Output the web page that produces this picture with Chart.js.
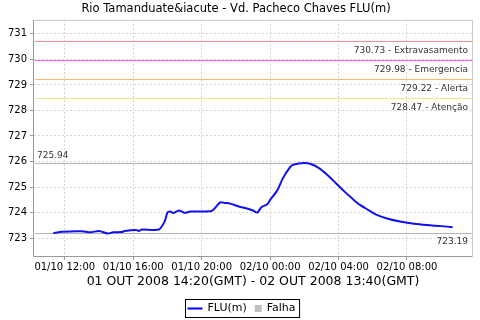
<!DOCTYPE html>
<html>
<head>
<meta charset="utf-8">
<script src="https://cdn.jsdelivr.net/npm/chart.js@4/dist/chart.umd.min.js"></script>
<style>
    html, body { margin: 0; padding: 0; background: #fff; }
    #wrap { width: 480px; height: 320px; }
</style>
</head>
<body>
<div id="wrap"><canvas id="chart"></canvas></div>
<script>
// time of reading (local), level in metres
const times = [
    '01/10 11:20', '01/10 11:50', '01/10 13:00', '01/10 13:30', '01/10 14:00',
    '01/10 14:30', '01/10 14:50', '01/10 15:20', '01/10 15:30', '01/10 16:10',
    '01/10 16:20', '01/10 16:30', '01/10 17:30', '01/10 17:50', '01/10 18:00',
    '01/10 18:10', '01/10 18:20', '01/10 18:40', '01/10 19:00', '01/10 19:20',
    '01/10 20:30', '01/10 20:40', '01/10 21:05', '01/10 21:20', '01/10 21:40',
    '01/10 22:10', '01/10 22:45', '01/10 23:00', '01/10 23:15', '01/10 23:30',
    '01/10 23:50', '02/10 00:00', '02/10 00:25', '02/10 00:45', '02/10 01:10',
    '02/10 01:20', '02/10 01:40', '02/10 02:00', '02/10 02:20', '02/10 02:50',
    '02/10 03:20', '02/10 03:50', '02/10 04:20', '02/10 04:50', '02/10 05:15',
    '02/10 05:45', '02/10 06:10', '02/10 06:50', '02/10 07:40', '02/10 08:25',
    '02/10 09:10', '02/10 10:00', '02/10 10:40'
];
const fluValues = [
    723.19, 723.25, 723.27, 723.23, 723.28,
    723.18, 723.23, 723.24, 723.28, 723.32,
    723.28, 723.34, 723.34, 723.65, 724.00,
    724.04, 723.98, 724.08, 723.99, 724.04,
    724.05, 724.10, 724.40, 724.38, 724.35,
    724.24, 724.14, 724.08, 724.00, 724.22,
    724.33, 724.50, 724.87, 725.35, 725.78,
    725.87, 725.92, 725.94, 725.91, 725.75,
    725.48, 725.16, 724.83, 724.53, 724.30,
    724.10, 723.93, 723.77, 723.64, 723.56,
    723.51, 723.47, 723.43
];

// alert levels
const limitValues = [730.73, 729.98, 729.22, 728.47];
const limitNames = ['Extravasamento', 'Emergencia', 'Alerta', 'Atenção'];
const limitColors = ['#f08c8c', '#ff5cff', '#ffb866', '#eeea8e'];

const maxValue = 725.94;
const minValue = 723.19;

const yTicks = [723, 724, 725, 726, 727, 728, 729, 730, 731];
const xTicks = [12, 16, 20, 24, 28, 32]; // hours since 01/10 00:00

const legendNames = ['FLU(m)', 'Falha'];

const FONT = 'DejaVu Sans';

function toHours(s) {
    const day = parseInt(s.slice(0, 2), 10);
    const hh = parseInt(s.slice(6, 8), 10);
    const mm = parseInt(s.slice(9, 11), 10);
    return (day - 1) * 24 + hh + mm / 60;
}

function hourLabel(h) {
    const day = h < 24 ? '01/10' : '02/10';
    const hh = String(h % 24).padStart(2, '0');
    return day + ' ' + hh + ':00';
}

const points = times.map((t, i) => ({ x: toHours(t), y: fluValues[i] }));

// threshold / min / max lines with their labels, frame and legend box
const levelLines = {
    id: 'levelLines',
    beforeDatasetsDraw(chart) {
        const { ctx, chartArea } = chart;
        const y = chart.scales.y;
        ctx.save();
        ctx.lineWidth = 1;
        ctx.setLineDash([]);
        ctx.font = '9px ' + FONT;
        ctx.fillStyle = '#333';
        ctx.textBaseline = 'middle';

        limitValues.forEach((v, i) => {
            const py = Math.round(y.getPixelForValue(v)) + 0.5;
            ctx.strokeStyle = limitColors[i];
            ctx.beginPath();
            ctx.moveTo(chartArea.left + 1, py);
            ctx.lineTo(chartArea.right, py);
            ctx.stroke();
            ctx.textAlign = 'right';
            ctx.fillText(v.toFixed(2) + ' - ' + limitNames[i], chartArea.right - 4, py + 9);
        });

        ctx.strokeStyle = '#b4b4b4';
        [maxValue, minValue].forEach(v => {
            const py = Math.round(y.getPixelForValue(v)) + 0.5;
            ctx.beginPath();
            ctx.moveTo(chartArea.left + 1, py);
            ctx.lineTo(chartArea.right, py);
            ctx.stroke();
        });
        ctx.textAlign = 'left';
        ctx.fillText(maxValue.toFixed(2), chartArea.left + 3, y.getPixelForValue(maxValue) - 7);
        ctx.textAlign = 'right';
        ctx.fillText(minValue.toFixed(2), chartArea.right - 4, y.getPixelForValue(minValue) + 8);
        ctx.restore();
    },
    afterDraw(chart) {
        const { ctx, chartArea } = chart;
        ctx.save();
        ctx.setLineDash([]);
        // left / bottom axis lines, lighter top / right frame
        ctx.strokeStyle = '#999';
        ctx.lineWidth = 1;
        ctx.beginPath();
        ctx.moveTo(chartArea.left - 0.5, chartArea.top);
        ctx.lineTo(chartArea.left - 0.5, chartArea.bottom + 0.5);
        ctx.lineTo(chartArea.right + 0.5, chartArea.bottom + 0.5);
        ctx.stroke();
        ctx.strokeStyle = '#c8c8c8';
        ctx.beginPath();
        ctx.moveTo(chartArea.left, chartArea.top + 0.5);
        ctx.lineTo(chartArea.right + 0.5, chartArea.top + 0.5);
        ctx.lineTo(chartArea.right + 0.5, chartArea.bottom);
        ctx.stroke();

        // boxed legend
        ctx.font = '11px ' + FONT;
        ctx.textBaseline = 'middle';
        const lineW = 15, sq = 7, gap = 5, itemGap = 8, pad = 2;
        const w0 = ctx.measureText(legendNames[0]).width;
        const w1 = ctx.measureText(legendNames[1]).width;
        const total = pad + lineW + gap + w0 + itemGap + sq + gap + w1 + pad + 2;
        const cx = chart.width / 2 + 2;
        const left = Math.round(cx - total / 2) + 0.5;
        const top = 299.5, h = 18, cy = top + h / 2;
        ctx.strokeStyle = '#000';
        ctx.strokeRect(left, top, total, h);

        let x = left + pad;
        ctx.strokeStyle = '#0000ff';
        ctx.lineWidth = 2;
        ctx.beginPath();
        ctx.moveTo(x, cy);
        ctx.lineTo(x + lineW, cy);
        ctx.stroke();
        x += lineW + gap;
        ctx.fillStyle = '#000';
        ctx.textAlign = 'left';
        ctx.fillText(legendNames[0], x, cy);
        x += w0 + itemGap;
        ctx.fillStyle = '#c0c0c0';
        ctx.fillRect(x, cy - sq / 2, sq, sq);
        x += sq + gap;
        ctx.fillStyle = '#000';
        ctx.fillText(legendNames[1], x, cy);
        ctx.restore();
    }
};

const gridStyle = {
    color: '#d4d4d4',
    tickLength: 4,
    tickColor: '#999',
    tickBorderDash: []
};

new Chart(document.getElementById('chart').getContext('2d'), {
    type: 'line',
    data: {
        datasets: [{
            label: legendNames[0],
            data: points,
            borderColor: '#1010f0',
            borderWidth: 2,
            pointRadius: 0,
            tension: 0.25,
            fill: false
        }]
    },
    options: {
        responsive: true,
        maintainAspectRatio: false,
        animation: false,
        layout: { padding: { left: 0, right: 8, top: 0, bottom: 31 } },
        scales: {
            x: {
                type: 'linear',
                min: 10.2,
                max: 35.8,
                afterBuildTicks: scale => { scale.ticks = xTicks.map(v => ({ value: v })); },
                grid: gridStyle,
                border: { display: false, dash: [2, 2] },
                ticks: {
                    color: '#000',
                    font: { family: FONT, size: 10 },
                    padding: 1,
                    maxRotation: 0,
                    autoSkip: false,
                    callback: v => hourLabel(v)
                },
                title: {
                    display: true,
                    text: '01 OUT 2008 14:20(GMT) - 02 OUT 2008 13:40(GMT)',
                    color: '#000',
                    font: { family: FONT, size: 12.5 },
                    padding: { top: 0, bottom: 0 }
                }
            },
            y: {
                min: 722.3,
                max: 731.55,
                afterBuildTicks: scale => { scale.ticks = yTicks.map(v => ({ value: v })); },
                afterFit: scale => { scale.width = 34; },
                grid: gridStyle,
                border: { display: false, dash: [2, 2] },
                ticks: {
                    color: '#000',
                    font: { family: FONT, size: 10 },
                    padding: 3,
                    callback: v => String(v)
                }
            }
        },
        plugins: {
            title: {
                display: true,
                text: 'Rio Tamanduate&iacute - Vd. Pacheco Chaves FLU(m)',
                color: '#000',
                font: { family: FONT, size: 11.5, weight: 'normal' },
                padding: { top: 2, bottom: 4 }
            },
            legend: { display: false },
            tooltip: { enabled: false }
        }
    },
    plugins: [levelLines]
});
</script>
</body>
</html>
